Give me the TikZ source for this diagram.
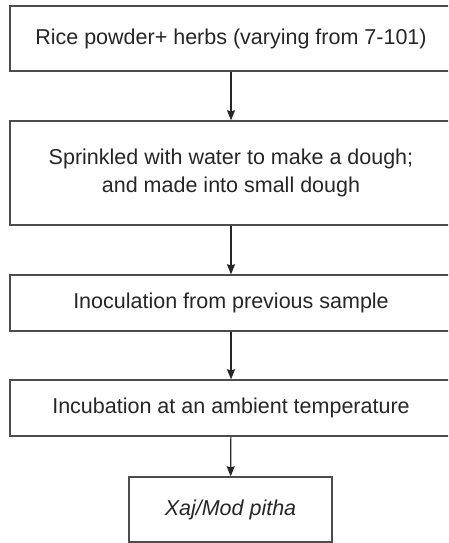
\documentclass[tikz,border=0pt]{standalone}
\usepackage{fontspec}
\setmainfont{Liberation Sans}
\usetikzlibrary{arrows.meta}
\begin{document}
\begin{tikzpicture}[x=1pt, y=-1pt,
		step box/.style={rectangle, draw=black!70, line width=1.4pt, minimum width=442pt, align=center, inner sep=0pt, font=\fontsize{21.5}{28}\selectfont, text=black!85},
		end box/.style={step box, minimum width=203pt, minimum height=65pt},
		flow/.style={-{Stealth[length=10pt, width=8pt, inset=1pt]}, line width=1.2pt, black!85}]
	\clip (0, 0) rectangle (448, 543);
	\node[step box, minimum height=65pt] (rice) at (231, 38.5) {Rice powder+ herbs (varying from 7-101)};
	\node[step box, minimum height=104pt] (sprinkle) at (231, 173) {Sprinkled with water to make a dough;\\ and made into small dough};
	\node[step box, minimum height=56pt] (inoc) at (231, 303) {Inoculation from previous sample};
	\node[step box, minimum height=56pt] (incub) at (231, 408) {Incubation at an ambient temperature};
	\node[end box] (pitha) at (230.5, 509.5) {\itshape Xaj/Mod pitha};
	\draw[flow] (rice) -- (sprinkle);
	\draw[flow] (sprinkle) -- (inoc);
	\draw[flow] (inoc) -- (incub);
	\draw[flow] (incub) -- (pitha);
\end{tikzpicture}
\end{document}
